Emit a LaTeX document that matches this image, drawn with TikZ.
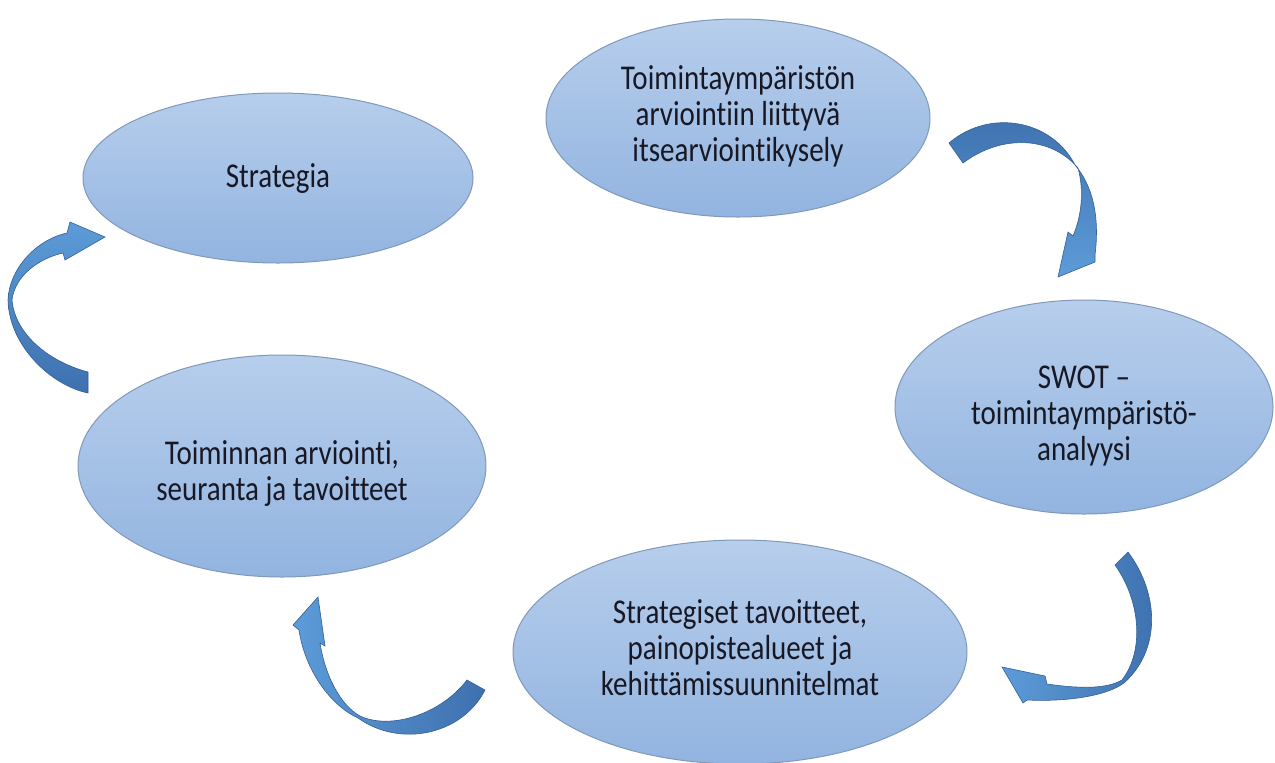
\documentclass[tikz,border=0pt]{standalone}
\usepackage{fontspec}
\setmainfont{Carlito}[Ligatures={NoCommon}]
\usepackage{graphicx}
\usetikzlibrary{shapes.geometric}
\definecolor{elltop}{RGB}{183,206,236}
\definecolor{ellbot}{RGB}{146,180,224}
\definecolor{elledge}{RGB}{128,152,186}
\definecolor{arrdark}{RGB}{62,112,174}
\definecolor{arrlight}{RGB}{92,156,216}
\definecolor{txtcol}{RGB}{24,24,36}
\newcommand\etxt[2][0pt]{\raisebox{#1}[\height][\depth]{\scalebox{1}[1.2]{\fontsize{14.5}{15}\selectfont\begin{tabular}{@{}c@{}}#2\end{tabular}}}}
\begin{document}
\begin{tikzpicture}[x=0.5pt,y=-0.5pt,
  ell/.style={ellipse, draw=elledge, line width=0.5pt, top color=elltop, bottom color=ellbot, inner sep=0pt, text=txtcol},
  arr/.style={draw=arrdark!85!black, line width=0.3pt}]
\useasboundingbox (0,0) rectangle (1275,762);
\clip (0,0) rectangle (1275,762);
\fill[white] (0,0) rectangle (1275,762);
% ellipses
\node[ell, minimum width=195pt, minimum height=85pt] (strat) at (278,178) {\etxt[-1pt]{Strategia}};
\node[ell, minimum width=192pt, minimum height=99pt] (toim) at (738,118) {\etxt{Toimintaympäristön\\arviointiin liittyvä\\itsearviointikysely}};
\node[ell, minimum width=189pt, minimum height=107pt] (swot) at (1084,407) {\etxt[-5pt]{SWOT –\\toimintaympäristö-\\analyysi}};
\node[ell, minimum width=227pt, minimum height=112pt] (strg) at (740,652) {\etxt{Strategiset tavoitteet,\\painopistealueet ja\\kehittämissuunnitelmat}};
\node[ell, minimum width=204pt, minimum height=111pt] (arv) at (282,466) {\etxt[-4.5pt]{Toiminnan arviointi,\\seuranta ja tavoitteet}};
% arrow 1 (top right)
\path[arr, top color=arrdark, bottom color=arrlight]
  (963,163) .. controls (1000,135) and (1050,135) .. (1078,168)
  .. controls (1084,190) and (1082,215) .. (1073,236)
  -- (1068,232) -- (1058,277) -- (1095,262) -- (1095,255)
  .. controls (1100,215) and (1092,185) .. (1075,165)
  .. controls (1052,120) and (990,108) .. (949,143) -- cycle;
% arrow 2 (bottom right)
\path[arr, left color=arrlight, right color=arrdark]
  (1115,565) .. controls (1140,600) and (1145,650) .. (1122,680)
  .. controls (1105,690) and (1075,688) .. (1047,684)
  -- (1045,676) -- (1002,667) -- (1023,703) -- (1027,700)
  .. controls (1070,702) and (1110,695) .. (1125,682)
  .. controls (1160,650) and (1160,595) .. (1128,552) -- cycle;
% arrow 3 (bottom left)
\path[arr, left color=arrlight, right color=arrdark]
  (467,680) .. controls (440,715) and (390,730) .. (360,716)
  .. controls (340,705) and (325,675) .. (320,643)
  -- (325,646) -- (318,597) -- (293,625) -- (299,630)
  .. controls (305,670) and (330,705) .. (358,718)
  .. controls (400,748) and (462,735) .. (485,690) -- cycle;
% arrow 4 (left)
\path[arr, top color=arrlight, bottom color=arrdark]
  (88,372) .. controls (50,362) and (15,335) .. (12,300)
  .. controls (15,275) and (40,258) .. (63,253)
  -- (65,260) -- (105,237) -- (70,222) -- (67,233)
  .. controls (35,240) and (9,270) .. (8,300)
  .. controls (9,345) and (50,385) .. (88,393) -- cycle;
\end{tikzpicture}
\end{document}
